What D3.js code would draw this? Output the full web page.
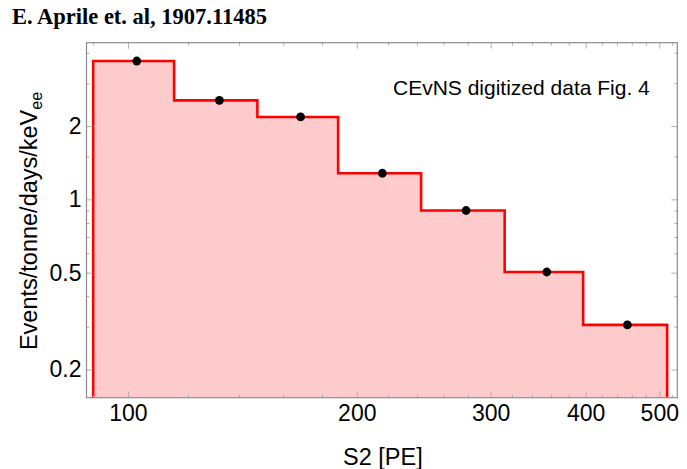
<!DOCTYPE html>
<html>
<head>
<meta charset="utf-8">
<script src="https://cdn.jsdelivr.net/npm/d3@7"></script>
<style>
  body { margin: 0; background: #fff; }
  svg { display: block; }
</style>
</head>
<body>
<div id="chart"></div>
<script>
// bin edges in S2 [PE] and rate per bin
var binEdges = [90, 115, 148, 189, 243, 313, 397, 512];
var binRates = [3.70, 2.55, 2.18, 1.28, 0.90, 0.503, 0.305];
var pointS2 = [102.7, 131.9, 168.7, 216.1, 278.5, 355.6, 453.9];
var pointRates = [3.70, 2.55, 2.18, 1.28, 0.90, 0.503, 0.305];

var xMajor = [100, 200, 300, 400, 500];
var xMinor = [90, 120, 140, 160, 180, 220, 240, 260, 280, 320, 340, 360, 380, 420, 440, 460, 480, 520];
var yMajor = [0.2, 0.5, 1, 2];
var yMinor = [0.3, 0.4, 0.6, 0.7, 0.8, 0.9, 1.5, 3, 4];

var W = 687, H = 469;
var plot = { left: 86.5, top: 42.7, right: 677.3, bottom: 397.7 };

var svg = d3.select("#chart").append("svg")
    .attr("width", W)
    .attr("height", H);

var x = d3.scaleLog().domain([88.2, 528]).range([plot.left, plot.right]);
var y = d3.scaleLog().domain([0.1532, 4.40]).range([plot.bottom, plot.top]);

svg.append("clipPath").attr("id", "clip")
    .append("rect")
    .attr("x", plot.left).attr("y", plot.top)
    .attr("width", plot.right - plot.left)
    .attr("height", plot.bottom - plot.top);

// outline of the histogram: up at the first edge, across each bin, down at the last edge
var outline = [[binEdges[0], y.domain()[0]]];
binRates.forEach(function (v, i) {
    outline.push([binEdges[i], v]);
    outline.push([binEdges[i + 1], v]);
});
outline.push([binEdges[binEdges.length - 1], y.domain()[0]]);

var g = svg.append("g").attr("clip-path", "url(#clip)");

g.append("path")
    .datum(outline)
    .attr("fill", "#fdcbcb")
    .attr("stroke", "none")
    .attr("d", d3.area()
        .x(function (d) { return x(d[0]); })
        .y0(plot.bottom)
        .y1(function (d) { return y(d[1]); }));

g.append("path")
    .datum(outline)
    .attr("fill", "none")
    .attr("stroke", "#ff0000")
    .attr("stroke-width", 2.6)
    .attr("d", d3.line()
        .x(function (d) { return x(d[0]); })
        .y(function (d) { return y(d[1]); }));

// ticks on all four sides, pointing inward
function styleAxis(sel) {
    sel.select(".domain").remove();
    sel.selectAll(".tick line").attr("stroke", "#b0b0b0");
    sel.selectAll("text")
        .attr("fill", "#000")
        .style("font-family", "'Liberation Sans', Arial, sans-serif")
        .style("font-size", "23px");
}

svg.append("g")
    .attr("transform", "translate(0," + plot.bottom + ")")
    .call(d3.axisBottom(x).tickValues(xMinor).tickSize(-3).tickFormat(""))
    .call(styleAxis);
svg.append("g")
    .attr("transform", "translate(0," + plot.bottom + ")")
    .call(d3.axisBottom(x).tickValues(xMajor).tickSize(-6).tickPadding(7).tickFormat(d3.format("d")))
    .call(styleAxis);
svg.append("g")
    .attr("transform", "translate(0," + plot.top + ")")
    .call(d3.axisTop(x).tickValues(xMinor).tickSize(-3).tickFormat(""))
    .call(styleAxis);
svg.append("g")
    .attr("transform", "translate(0," + plot.top + ")")
    .call(d3.axisTop(x).tickValues(xMajor).tickSize(-6).tickFormat(""))
    .call(styleAxis);

svg.append("g")
    .attr("transform", "translate(" + plot.left + ",0)")
    .call(d3.axisLeft(y).tickValues(yMinor).tickSize(-3).tickFormat(""))
    .call(styleAxis);
svg.append("g")
    .attr("transform", "translate(" + plot.left + ",0)")
    .call(d3.axisLeft(y).tickValues(yMajor).tickSize(-6).tickPadding(5).tickFormat(function (d) { return String(d); }))
    .call(styleAxis);
svg.append("g")
    .attr("transform", "translate(" + plot.right + ",0)")
    .call(d3.axisRight(y).tickValues(yMinor).tickSize(-3).tickFormat(""))
    .call(styleAxis);
svg.append("g")
    .attr("transform", "translate(" + plot.right + ",0)")
    .call(d3.axisRight(y).tickValues(yMajor).tickSize(-6).tickFormat(""))
    .call(styleAxis);

// frame
svg.append("rect")
    .attr("x", plot.left).attr("y", plot.top)
    .attr("width", plot.right - plot.left)
    .attr("height", plot.bottom - plot.top)
    .attr("fill", "none")
    .attr("stroke", "#8c8c8c")
    .attr("stroke-width", 1.2);

// data points
svg.append("g").selectAll("circle")
    .data(pointS2)
    .enter()
    .append("circle")
    .attr("cx", function (d) { return x(d); })
    .attr("cy", function (d, i) { return y(pointRates[i]); })
    .attr("r", 4.4)
    .attr("fill", "#000");

// texts
svg.append("text")
    .attr("x", 12)
    .attr("y", 24)
    .style("font-family", "'Liberation Serif', 'Times New Roman', serif")
    .style("font-weight", "bold")
    .style("font-size", "22.5px")
    .text("E. Aprile et. al, 1907.11485");

svg.append("text")
    .attr("x", 393)
    .attr("y", 94.5)
    .style("font-family", "'Liberation Sans', Arial, sans-serif")
    .style("font-size", "21px")
    .text("CEvNS digitized data Fig. 4");

svg.append("text")
    .attr("x", (plot.left + plot.right) / 2 + 1)
    .attr("y", 465)
    .attr("text-anchor", "middle")
    .style("font-family", "'Liberation Sans', Arial, sans-serif")
    .style("font-size", "23.5px")
    .text("S2 [PE]");

var yl = svg.append("text")
    .attr("transform", "translate(37,221) rotate(-90)")
    .attr("text-anchor", "middle")
    .style("font-family", "'Liberation Sans', Arial, sans-serif")
    .style("font-size", "23.5px");
yl.append("tspan").text("Events/tonne/days/keV");
yl.append("tspan")
    .attr("dy", "0.3em")
    .style("font-size", "16px")
    .text("ee");
</script>
</body>
</html>
